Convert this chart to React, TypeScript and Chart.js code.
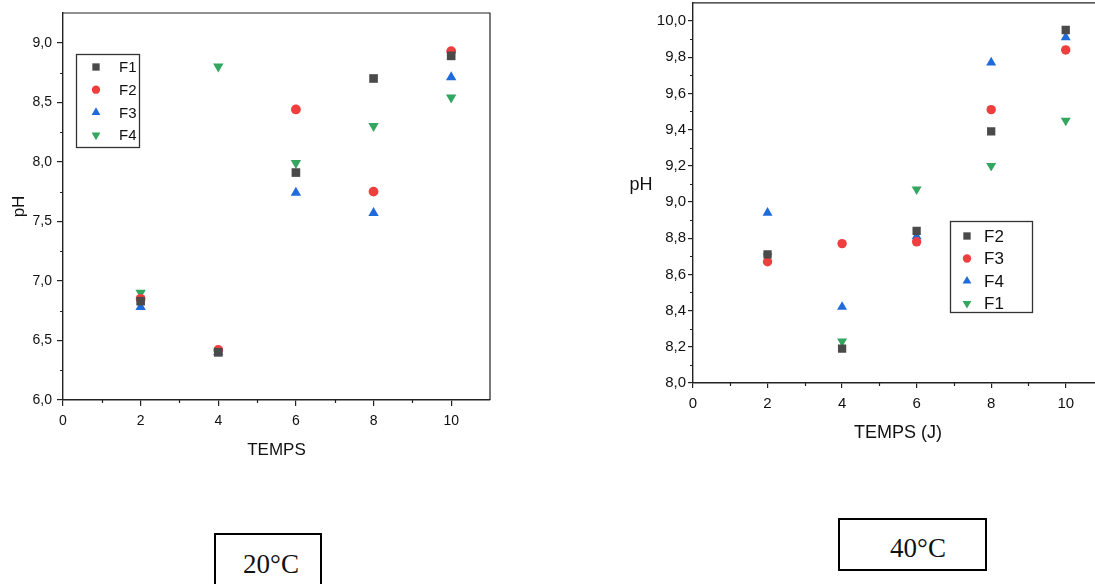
import React, { useEffect, useRef } from "react";
import { Chart, registerables } from "chart.js";

Chart.register(...registerables);

// ---------- data ----------
const xValues = [2, 4, 6, 8, 10];
const xTicks = [0, 2, 4, 6, 8, 10];
const xMinorTicks = [1, 3, 5, 7, 9];

// 20°C chart
const left_F1 = [6.83, 6.4, 7.91, 8.7, 8.89];
const left_F2 = [6.85, 6.42, 8.44, 7.75, 8.93];
const left_F3 = [6.78, 6.4, 7.74, 7.57, 8.71];
const left_F4 = [6.9, 8.8, 7.99, 8.3, 8.54];
const leftLabels = ["F1", "F2", "F3", "F4"];
const leftYTicks = [6.0, 6.5, 7.0, 7.5, 8.0, 8.5, 9.0];
const leftYMinor = [6.25, 6.75, 7.25, 7.75, 8.25, 8.75];

// 40°C chart
const right_F2 = [8.71, 8.19, 8.84, 9.39, 9.95];
const right_F3 = [8.67, 8.77, 8.78, 9.51, 9.84];
const right_F4 = [8.94, 8.42, 8.81, 9.77, 9.91];
const right_F1 = [8.7, 8.23, 9.07, 9.2, 9.45];
const rightLabels = ["F2", "F3", "F4", "F1"];
const rightYTicks = [8.0, 8.2, 8.4, 8.6, 8.8, 9.0, 9.2, 9.4, 9.6, 9.8, 10.0];
const rightYMinor = [8.1, 8.3, 8.5, 8.7, 8.9, 9.1, 9.3, 9.5, 9.7, 9.9];

const colors = ["#4a4a4a", "#ef3e3e", "#1f6bdc", "#33a660"];
const styles = ["rect", "circle", "triangle", "triangle"];
const rotations = [0, 0, 0, 180];
const radii = [6.1, 4.9, 6.0, 6.0];

const FONT = "'Liberation Sans', Arial, sans-serif";

function drawMarker(ctx: CanvasRenderingContext2D, style: string, x: number, y: number, r: number, rot: number) {
  ctx.beginPath();
  if (style === "rect") {
    const s = Math.SQRT1_2 * r;
    ctx.rect(x - s, y - s, 2 * s, 2 * s);
  } else if (style === "circle") {
    ctx.arc(x, y, r, 0, Math.PI * 2);
  } else {
    let a = (rot * Math.PI) / 180;
    ctx.moveTo(x + Math.sin(a) * r, y - Math.cos(a) * r);
    a += (2 * Math.PI) / 3;
    ctx.lineTo(x + Math.sin(a) * r, y - Math.cos(a) * r);
    a += (2 * Math.PI) / 3;
    ctx.lineTo(x + Math.sin(a) * r, y - Math.cos(a) * r);
    ctx.closePath();
  }
  ctx.fill();
}

const decorPlugin = {
  id: "decor",
  afterDraw(chart: any, _args: any, opts: any) {
    const ctx: CanvasRenderingContext2D = chart.ctx;
    const ca = chart.chartArea;
    ctx.save();
    // frame
    ctx.strokeStyle = "#222";
    ctx.lineWidth = 1.2;
    ctx.beginPath();
    ctx.moveTo(ca.left, ca.top);
    ctx.lineTo(ca.right, ca.top);
    ctx.lineTo(ca.right, ca.bottom);
    ctx.stroke();
    // minor ticks
    const xs = chart.scales.x;
    const ys = chart.scales.y;
    ctx.lineWidth = 1.2;
    ctx.beginPath();
    (opts.xMinor || []).forEach((v: number) => {
      const px = Math.round(xs.getPixelForValue(v)) + 0.5;
      ctx.moveTo(px, ca.bottom);
      ctx.lineTo(px, ca.bottom + opts.minorLen);
    });
    (opts.yMinor || []).forEach((v: number) => {
      const py = Math.round(ys.getPixelForValue(v)) + 0.5;
      ctx.moveTo(ca.left, py);
      ctx.lineTo(ca.left - opts.minorLen, py);
    });
    ctx.stroke();
    // horizontal y-title if requested
    if (opts.yTitle) {
      ctx.fillStyle = "#111";
      ctx.font = `${opts.yTitle.size}px ${FONT}`;
      ctx.textAlign = "center";
      ctx.textBaseline = "middle";
      ctx.fillText(opts.yTitle.text, opts.yTitle.x, opts.yTitle.y);
    }
    // legend
    const lg = opts.legend;
    if (lg) {
      ctx.strokeStyle = "#333";
      ctx.lineWidth = 1.3;
      ctx.strokeRect(lg.x + 0.5, lg.y + 0.5, lg.w, lg.h);
      ctx.font = `${lg.size}px ${FONT}`;
      ctx.textAlign = "left";
      ctx.textBaseline = "middle";
      lg.labels.forEach((lab: string, i: number) => {
        const cy = lg.y + lg.first + i * lg.step;
        ctx.fillStyle = colors[i];
        drawMarker(ctx, styles[i], lg.x + lg.markerX, cy, radii[i] * 0.85, rotations[i]);
        ctx.fillStyle = "#111";
        ctx.fillText(lab, lg.x + lg.textX, cy + 1);
      });
    }
    ctx.restore();
  },
};

function fmt(v: number) {
  return v.toFixed(1).replace(".", ",");
}

function makeDatasets(series: number[][], labels: string[], scale: number) {
  return series.map((arr, i) => ({
    label: labels[i],
    data: xValues.map((x, j) => ({ x, y: arr[j] })),
    backgroundColor: colors[i],
    borderColor: colors[i],
    borderWidth: 0,
    pointStyle: styles[i],
    pointRotation: rotations[i],
    pointRadius: radii[i] * scale,
    pointBorderWidth: 0,
    showLine: false,
  }));
}

function useScatter(ref: React.RefObject<HTMLCanvasElement>, cfg: any) {
  useEffect(() => {
    if (!ref.current) return;
    const chart = new Chart(ref.current, cfg);
    return () => chart.destroy();
  }, []);
}

function axisCommon(tickLen: number) {
  return {
    grid: { display: true, drawOnChartArea: false, drawTicks: true, tickLength: tickLen, color: "#222", lineWidth: 1.2 },
    border: { display: true, color: "#222", width: 1.4 },
  };
}

export default function App() {
  const leftRef = useRef<HTMLCanvasElement>(null);
  const rightRef = useRef<HTMLCanvasElement>(null);

  useScatter(leftRef, {
    type: "scatter",
    data: { datasets: makeDatasets([left_F1, left_F2, left_F3, left_F4], leftLabels, 1) },
    plugins: [decorPlugin],
    options: {
      animation: false,
      responsive: false,
      devicePixelRatio: 1,
      layout: { padding: { left: 0, top: 13, right: 10, bottom: 0 } },
      plugins: {
        legend: { display: false },
        tooltip: { enabled: false },
        decor: {
          xMinor: xMinorTicks,
          yMinor: leftYMinor,
          minorLen: 3,
          legend: { x: 76, y: 54, w: 63, h: 93, first: 13, step: 22.7, markerX: 20, textX: 43, size: 15, labels: leftLabels },
        },
      },
      scales: {
        x: {
          type: "linear",
          min: 0,
          max: 11,
          ...axisCommon(6),
          afterBuildTicks: (s: any) => { s.ticks = xTicks.map((v) => ({ value: v })); },
          afterFit: (s: any) => { s.height = 70; s.paddingLeft = 0; s.paddingRight = 0; },
          ticks: { color: "#111", padding: 7, font: { size: 14, family: FONT }, callback: (v: any) => String(v) },
          title: { display: true, text: "TEMPS", color: "#111", font: { size: 17, family: FONT }, padding: { top: 0, bottom: 9 } },
        },
        y: {
          type: "linear",
          min: 6,
          max: 9.25,
          ...axisCommon(6),
          afterBuildTicks: (s: any) => { s.ticks = leftYTicks.map((v) => ({ value: v })); },
          afterFit: (s: any) => { s.width = 63; s.paddingTop = 0; s.paddingBottom = 0; },
          ticks: { color: "#111", padding: 5, font: { size: 14, family: FONT }, callback: (v: any) => fmt(Number(v)) },
          title: { display: true, text: "pH", color: "#111", font: { size: 17, family: FONT }, padding: { top: 9, bottom: 0 } },
        },
      },
    },
  });

  useScatter(rightRef, {
    type: "scatter",
    data: { datasets: makeDatasets([right_F2, right_F3, right_F4, right_F1], rightLabels, 0.96) },
    plugins: [decorPlugin],
    options: {
      animation: false,
      responsive: false,
      devicePixelRatio: 1,
      layout: { padding: { left: 0, top: 0, right: 7, bottom: 0 } },
      plugins: {
        legend: { display: false },
        tooltip: { enabled: false },
        decor: {
          xMinor: xMinorTicks,
          yMinor: rightYMinor,
          minorLen: 3,
          yTitle: { text: "pH", x: 41, y: 188, size: 18 },
          legend: { x: 350, y: 224, w: 82, h: 91, first: 15, step: 22.5, markerX: 17, textX: 34, size: 17, labels: rightLabels },
        },
      },
      scales: {
        x: {
          type: "linear",
          min: 0,
          max: 11,
          ...axisCommon(5),
          afterBuildTicks: (s: any) => { s.ticks = xTicks.map((v) => ({ value: v })); },
          afterFit: (s: any) => { s.height = 77; s.paddingLeft = 0; s.paddingRight = 0; },
          ticks: { color: "#111", padding: 7, font: { size: 15, family: FONT }, callback: (v: any) => String(v) },
          title: { display: true, text: "TEMPS (J)", color: "#111", font: { size: 18, family: FONT }, padding: { top: 0, bottom: 16 } },
        },
        y: {
          type: "linear",
          min: 8,
          max: 10.1,
          ...axisCommon(5),
          afterBuildTicks: (s: any) => { s.ticks = rightYTicks.map((v) => ({ value: v })); },
          afterFit: (s: any) => { s.width = 93; s.paddingTop = 0; s.paddingBottom = 0; },
          ticks: { color: "#111", padding: 2, font: { size: 15, family: FONT }, callback: (v: any) => fmt(Number(v)) },
          title: { display: false },
        },
      },
    },
  });

  const boxText: React.CSSProperties = {
    position: "absolute",
    fontFamily: "'Liberation Serif', 'DejaVu Serif', serif",
    fontSize: 27,
    lineHeight: "27px",
    color: "#111",
    textAlign: "center",
    width: 120,
    whiteSpace: "nowrap",
  };

  return (
    <div style={{ position: "fixed", left: 0, top: 0, width: 1095, height: 584, overflow: "hidden", background: "#fff" }}>
      <canvas ref={leftRef} width={500} height={470} style={{ position: "absolute", left: 0, top: 0, width: 500, height: 470 }} />
      <canvas ref={rightRef} width={510} height={463} style={{ position: "absolute", left: 600, top: -3, width: 510, height: 463 }} />
      <div style={{ position: "absolute", left: 214, top: 533, width: 108, height: 70, border: "2px solid #000", boxSizing: "border-box" }} />
      <div style={{ ...boxText, left: 271 - 60, top: 551 }}>20°C</div>
      <div style={{ position: "absolute", left: 838, top: 518, width: 149, height: 53, border: "2px solid #000", boxSizing: "border-box" }} />
      <div style={{ ...boxText, left: 918 - 60, top: 535 }}>40°C</div>
    </div>
  );
}
